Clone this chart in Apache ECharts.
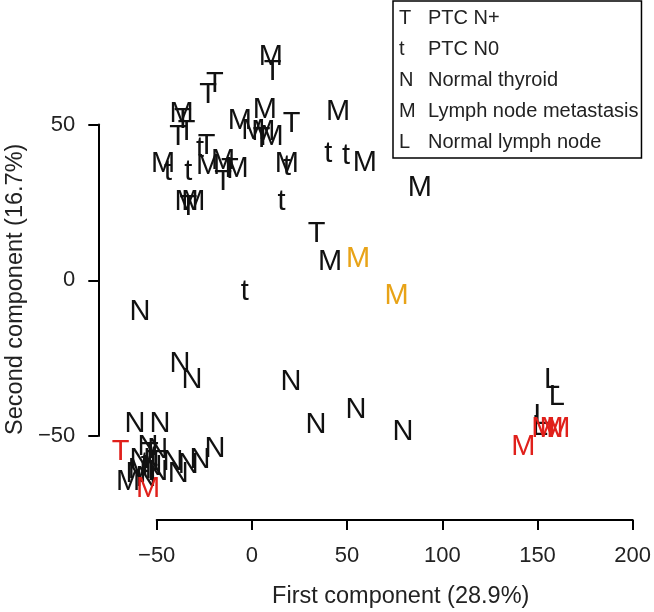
<!DOCTYPE html>
<html><head><meta charset="utf-8">
<script src="https://cdn.jsdelivr.net/npm/echarts@6/dist/echarts.min.js"></script>
<style>html,body{margin:0;padding:0;background:#fff}#c{width:654px;height:612px}</style>
</head><body><div id="c"></div>
<script>
// ---- tick labels ----
const xTicks = [-50, 0, 50, 100, 150, 200];
const yTicks = [-50, 0, 50];
const xTitle = 'First component (28.9%)';
const yTitle = 'Second component (16.7%)';

// ---- categories (letter, description) ----
const letters = ['T', 't', 'N', 'M', 'L'];
const categories = ['PTC N+', 'PTC N0', 'Normal thyroid', 'Lymph node metastasis', 'Normal lymph node'];

// ---- series values [first component, second component] ----
const ptcNplus = [
  [10.9, 67.8], [-19.4, 64.0], [-23.0, 60.3], [-36.2, 52.3], [20.8, 51.2], [5.1, 46.3],
  [-38.7, 46.9], [-34.3, 48.5], [-15.1, 32.4], [34.0, 15.8], [-33.4, 24.4], [-23.8, 44.2],
  [-11.6, 36.2], [-53.6, -54.9], [-50.5, -57.5]
];
const ptcN0 = [
  [40.1, 41.5], [49.4, 40.8], [15.6, 26.0], [-3.7, -2.9], [-44.0, 35.6], [-33.4, 35.6],
  [-27.3, 43.1], [18.4, 37.3], [-56.2, -58.1], [-51.5, -56.0]
];
const normalThyroid = [
  [-58.8, -9.3], [-37.8, -26.0], [-31.5, -31.1], [20.5, -31.8], [33.6, -45.6], [54.6, -40.8],
  [79.3, -47.8], [-61.4, -45.2], [-48.3, -45.2], [-38.7, -61.2], [-33.4, -58.5], [-27.3, -56.9],
  [-19.4, -53.2], [-41.5, -57.5], [-54.6, -52.7], [-49.4, -53.6], [-58.8, -56.8], [-52.5, -59.1],
  [-60.9, -61.3], [-49.4, -60.7], [-55.7, -62.6]
];
const lnMetastasis = [
  [10.0, 72.6], [-36.9, 54.4], [6.8, 55.5], [-6.3, 52.2], [45.2, 54.9], [0.7, 49.0],
  [6.0, 48.5], [10.3, 46.9], [18.4, 38.2], [-46.6, 38.3], [-23.0, 37.8], [-15.1, 39.4],
  [-8.0, 36.7], [-34.3, 26.0], [-30.8, 26.0], [59.3, 38.5], [88.2, 30.5], [41.0, 6.7],
  [-65.0, -63.9], [-58.8, -60.0]
];
const normalLymphNode = [[157.6, -31.1], [160.2, -36.6], [152.2, -42.5], [151.3, -46.2]];
// highlighted samples
const ptcNplusRed = [[-69.0, -54.3]];
const lnMetastasisRed = [[-54.5, -66.1], [153.0, -46.8], [157.4, -46.8], [161.0, -46.8], [142.5, -52.5]];
const lnMetastasisOrange = [[55.8, 7.8], [76.0, -4.0]];

const FONT = '"Liberation Sans", Arial, Helvetica, sans-serif';
const BLACK = '#111';
const RED = '#e0201b';
const ORANGE = '#e8a317';
const GLYPH_DY = 3; // visual centring of the letter glyph on its point

function letterSeries(name, letter, data, color, z) {
  return {
    type: 'custom', name: name, coordinateSystem: 'cartesian2d', data: data, clip: false, z: z,
    encode: { x: 0, y: 1 }, silent: true,
    itemStyle: { color: color },
    renderItem: function (params, api) {
      const p = api.coord([api.value(0), api.value(1)]);
      return {
        type: 'text', x: p[0], y: p[1] + GLYPH_DY,
        style: { text: letter, fill: color, font: '29px ' + FONT, align: 'center', verticalAlign: 'middle' }
      };
    }
  };
}

const letterOf = {};
categories.forEach((c, i) => { letterOf[c] = letters[i]; });

const series = [
  letterSeries(categories[0], 'T', ptcNplus, BLACK, 2),
  letterSeries(categories[1], 't', ptcN0, BLACK, 2),
  letterSeries(categories[2], 'N', normalThyroid, BLACK, 2),
  letterSeries(categories[3], 'M', lnMetastasis, BLACK, 2),
  letterSeries(categories[4], 'L', normalLymphNode, BLACK, 2),
  letterSeries('PTC N+ (red)', 'T', ptcNplusRed, RED, 3),
  letterSeries('Lymph node metastasis (red)', 'M', lnMetastasisRed, RED, 3),
  letterSeries('Lymph node metastasis (orange)', 'M', lnMetastasisOrange, ORANGE, 3)
];

const chart = echarts.init(document.getElementById('c'), null, { renderer: 'canvas' });
const tickText = { fontSize: 22, color: '#222', fontFamily: FONT };
const titleText = { fontSize: 23.5, color: '#222', fontFamily: FONT };
const minus = v => (v < 0 ? '\u2212' + (-v) : String(v));

chart.setOption({
  animation: false,
  backgroundColor: '#fff',
  grid: { left: 156.7, right: 21.3, top: 124.5, bottom: 176, containLabel: false, outerBoundsMode: 'none' },
  xAxis: {
    type: 'value', min: xTicks[0], max: xTicks[xTicks.length - 1], interval: xTicks[1] - xTicks[0],
    offset: 84,
    name: xTitle, nameLocation: 'middle', nameGap: 65,
    nameTextStyle: Object.assign({}, titleText, { padding: [0, 0, 0, 12] }),
    axisLine: { show: true, onZero: false, lineStyle: { color: '#000', width: 2 } },
    axisTick: { show: true, length: 10, lineStyle: { color: '#000', width: 2 } },
    axisLabel: Object.assign({}, tickText, { margin: 25, formatter: minus }),
    splitLine: { show: false }
  },
  yAxis: {
    type: 'value', min: yTicks[0], max: yTicks[yTicks.length - 1], interval: yTicks[1] - yTicks[0],
    offset: 58.4,
    name: yTitle, nameLocation: 'middle', nameGap: 71, nameRotate: 90,
    nameTextStyle: Object.assign({}, titleText, { padding: [0, 18, 0, 0] }),
    axisLine: { show: true, onZero: false, lineStyle: { color: '#000', width: 2 } },
    axisTick: { show: true, length: 10, lineStyle: { color: '#000', width: 2 } },
    axisLabel: Object.assign({}, tickText, { margin: 23, formatter: minus }),
    splitLine: { show: false }
  },
  legend: {
    data: categories.slice(),
    orient: 'vertical', left: 393, top: 1, selectedMode: false,
    itemWidth: 0, itemHeight: 31, itemGap: 0,
    padding: [2, 3, 0, 1],
    borderColor: '#000', borderWidth: 1.5, backgroundColor: '#fff',
    formatter: name => '{k|' + letterOf[name] + '}{v|' + name + '}',
    textStyle: {
      fontFamily: FONT, fontSize: 20,
      rich: {
        k: { width: 29, fontSize: 20, color: '#222', fontFamily: FONT },
        v: { fontSize: 20, color: '#222', fontFamily: FONT }
      }
    }
  },
  series: series
});
</script>
</body></html>
